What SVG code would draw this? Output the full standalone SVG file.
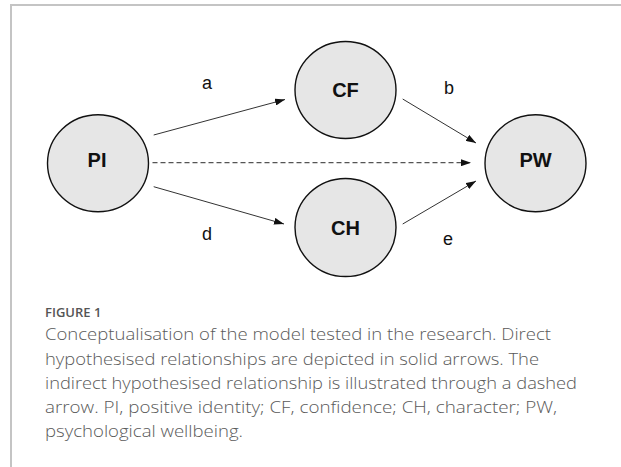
<svg xmlns="http://www.w3.org/2000/svg" width="621" height="467" viewBox="0 0 621 467">
<style>
.node{fill:#e6e6e6;stroke:#111;stroke-width:1.4}
.nl{font-family:"Liberation Sans",Arial,sans-serif;font-weight:bold;font-size:20px;fill:#111;text-anchor:middle}
.el{font-family:"Liberation Sans",Arial,sans-serif;font-size:18px;fill:#111;text-anchor:middle}
.solid{stroke:#333;stroke-width:1;fill:none}
.dash{stroke:#555;stroke-width:1.2;fill:none;stroke-dasharray:5 3}
.cap{font-family:"Open Sans",Lato,sans-serif;font-weight:300;font-size:16px;fill:#5a5a5a}
.fig{font-family:"Open Sans",Lato,sans-serif;font-weight:600;font-size:13px;fill:#555}
</style>
<defs>
<marker id="ah" viewBox="0 0 10 7" refX="10" refY="3.5" markerWidth="10" markerHeight="7" markerUnits="userSpaceOnUse" orient="auto">
<path d="M0,0 L10,3.5 L0,7 z" fill="#111"/>
</marker>
</defs>
<rect width="621" height="467" fill="#fff"/>
<path d="M11,467 V5 H621" fill="none" stroke="#c4c4c4" stroke-width="2"/>
<g id="connectors">
<line class="solid" x1="153.7" y1="135" x2="285" y2="99.5" marker-end="url(#ah)"/>
<line class="solid" x1="153.7" y1="186.7" x2="284" y2="224" marker-end="url(#ah)"/>
<line class="dash" x1="152.5" y1="162.7" x2="471" y2="162.7" marker-end="url(#ah)"/>
<line class="solid" x1="402.7" y1="99" x2="476" y2="143" marker-end="url(#ah)"/>
<line class="solid" x1="402.7" y1="224" x2="476" y2="181" marker-end="url(#ah)"/>
<text class="el" x="207" y="89">a</text>
<text class="el" x="449" y="94">b</text>
<text class="el" x="207" y="240">d</text>
<text class="el" x="448" y="245">e</text>
</g>
<g id="PI"><ellipse class="node" cx="98" cy="163.3" rx="50.5" ry="48.5"/><text class="nl" x="97" y="167">PI</text></g>
<g id="CF"><ellipse class="node" cx="345.5" cy="90" rx="50.5" ry="48.5"/><text class="nl" x="345.5" y="97">CF</text></g>
<g id="CH"><ellipse class="node" cx="345.5" cy="227.5" rx="50.5" ry="49"/><text class="nl" x="345.5" y="234.5">CH</text></g>
<g id="PW"><ellipse class="node" cx="535.5" cy="163.3" rx="50.5" ry="48.5"/><text class="nl" x="535.5" y="167">PW</text></g>
<g id="caption">
<text class="fig" x="45" y="317">FIGURE 1</text>
<text class="cap" x="45" y="340" textLength="506" lengthAdjust="spacingAndGlyphs">Conceptualisation of the model tested in the research. Direct</text>
<text class="cap" x="45" y="364.5" textLength="494" lengthAdjust="spacingAndGlyphs">hypothesised relationships are depicted in solid arrows. The</text>
<text class="cap" x="45" y="389" textLength="532" lengthAdjust="spacingAndGlyphs">indirect hypothesised relationship is illustrated through a dashed</text>
<text class="cap" x="45" y="413" textLength="512" lengthAdjust="spacingAndGlyphs">arrow. PI, positive identity; CF, confidence; CH, character; PW,</text>
<text class="cap" x="45" y="437" textLength="198" lengthAdjust="spacingAndGlyphs">psychological wellbeing.</text>
</g>
</svg>
